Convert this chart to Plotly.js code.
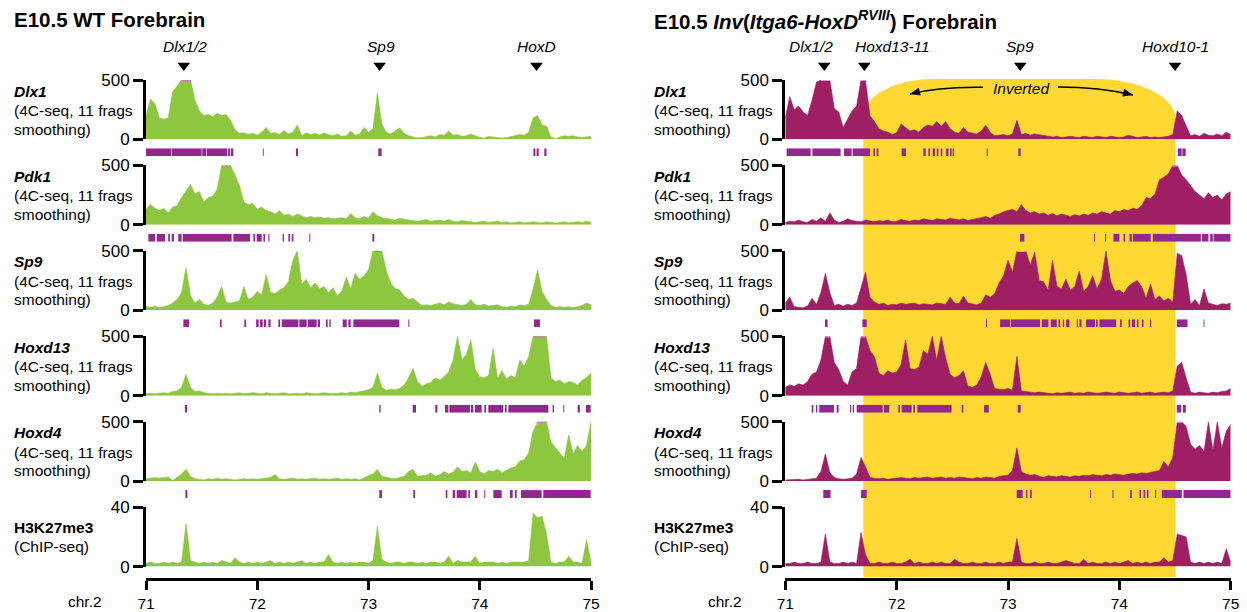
<!DOCTYPE html>
<html><head><meta charset="utf-8">
<script src="https://cdn.plot.ly/plotly-3.0.1.min.js"></script>
<style>html,body{margin:0;padding:0;background:#fff}#chart{width:1247px;height:612px}</style>
</head><body><div id="chart"></div>
<script>
// ---------------- DATA ----------------
const binStartMb = 71.0;
const binSizeMb = 0.04;
const xTickValues = [71, 72, 73, 74, 75];
const xTickLabels = ['71', '72', '73', '74', '75'];
const viewpoints = ['Dlx1', 'Pdk1', 'Sp9', 'Hoxd13', 'Hoxd4'];
const chipLabel = 'H3K27me3';

// WT forebrain 4C-seq (0-500, clipped) and H3K27me3 ChIP (0-40)
const wtDlx1 = [200,340,300,180,170,180,400,450,500,500,
500,330,240,200,210,190,220,200,210,160,
80,50,55,40,50,35,60,100,50,55,
40,75,45,60,120,30,55,40,50,35,
55,40,30,45,25,30,70,35,45,100,
60,90,390,130,60,45,70,95,50,30,
20,12,15,25,30,20,40,35,70,35,
40,25,30,45,30,15,10,25,20,15,
10,15,25,30,40,35,60,180,200,120,
110,20,5,20,30,25,30,20,15,20,
25];
const wtPdk1 = [130,170,140,120,140,100,150,160,230,280,
340,260,280,190,230,240,300,500,500,500,
420,330,190,170,180,130,150,120,110,90,
120,80,90,70,90,75,60,70,60,65,
55,60,50,55,60,50,95,60,50,70,
55,110,75,60,55,45,40,55,45,40,
35,30,35,45,30,35,40,30,45,30,
25,35,30,25,20,25,30,20,25,30,
20,25,15,20,25,15,20,25,20,15,
25,20,15,20,25,15,20,25,20,30,
20];
const wtSp9 = [30,25,35,20,30,40,60,90,150,360,
120,60,90,50,40,60,110,200,70,60,
70,80,200,90,110,160,130,300,150,140,
170,190,240,420,500,220,260,190,230,180,
200,150,190,120,160,280,180,310,260,290,
340,500,500,500,330,230,180,170,120,90,
100,70,40,45,40,50,60,45,70,55,
45,40,50,90,45,40,50,35,40,45,
30,25,35,30,45,40,50,180,340,160,
90,40,25,30,25,30,20,30,40,60,
45];
const wtHoxd13 = [15,20,15,20,25,20,35,40,70,180,
70,35,40,25,20,15,20,15,20,15,
20,25,15,20,25,20,15,25,20,15,
20,25,15,20,20,15,25,20,15,20,
25,20,15,20,25,20,30,25,35,40,
50,70,190,70,45,55,50,60,90,150,
230,120,80,100,110,150,130,160,200,300,
500,300,350,470,220,160,150,170,400,150,
210,140,170,150,300,250,330,500,500,500,
500,150,120,130,100,120,110,90,130,150,
190];
const wtHoxd4 = [20,25,30,25,30,35,5,30,60,100,
40,20,15,10,20,15,25,15,20,15,
10,15,20,15,20,15,20,25,30,55,
20,15,20,25,15,20,15,20,25,15,
20,15,20,25,15,20,15,20,10,30,
45,60,100,40,30,25,20,30,40,80,
100,40,45,50,70,40,55,80,60,75,
120,80,90,70,160,80,60,90,80,100,
70,90,110,120,170,180,240,420,500,500,
500,330,280,230,190,390,230,300,250,300,
500];
const wtK27me3 = [2,3,2,2,3,2,3,2,3,29,
4,3,2,3,2,3,2,4,3,2,
6,3,2,3,2,3,2,3,4,2,
3,2,3,2,3,4,2,3,2,3,
3,8,3,2,3,2,3,2,3,3,
2,4,27,5,3,2,3,3,2,3,
3,2,3,2,3,3,2,3,7,2,
4,3,3,3,7,2,3,3,3,2,
3,2,3,3,3,3,4,36,33,34,
22,3,2,3,3,7,3,3,2,18,
3];

// Inv(Itga6-HoxD RVIII) forebrain
const invDlx1 = [180,360,250,280,230,200,330,480,500,500,
500,260,230,100,170,240,280,500,500,200,
150,90,70,60,40,55,130,100,70,80,
60,100,120,110,150,110,150,90,60,50,
100,60,50,45,70,120,60,30,35,40,
30,45,160,40,50,35,45,40,30,25,
20,25,15,20,25,20,15,25,20,15,
25,20,15,25,20,15,20,35,25,15,
20,25,15,20,15,20,25,40,240,200,
110,30,40,25,50,35,30,45,30,60,
40];
const invPdk1 = [20,30,25,40,25,20,45,30,60,30,
100,40,20,30,50,35,30,25,40,30,
25,35,30,40,25,30,45,35,30,40,
35,50,40,35,50,45,40,55,45,40,
50,35,45,50,60,70,55,80,90,110,
120,130,110,170,120,100,110,90,100,80,
95,75,90,80,70,85,75,90,80,100,
90,110,100,90,120,110,130,120,140,130,
160,230,220,260,380,400,430,500,500,420,
380,330,280,250,220,270,230,250,210,260,
280];
const invSp9 = [60,110,30,25,20,35,100,50,150,310,
150,40,50,35,50,40,60,190,320,110,
70,50,60,40,50,45,60,50,55,60,
45,55,50,45,60,55,50,110,60,55,
120,60,50,45,60,130,110,140,230,290,
420,320,500,500,500,380,490,250,240,170,
420,200,180,260,170,200,330,160,200,290,
180,260,500,250,160,170,140,200,230,250,
200,100,220,90,120,80,100,70,480,460,
300,50,90,40,180,60,50,40,55,50,
60];
const invHoxd13 = [70,90,80,100,90,120,180,200,300,500,
500,280,220,120,90,200,230,500,500,380,
330,190,170,210,190,200,260,470,230,220,
240,380,350,500,300,500,320,180,150,170,
210,80,70,90,160,280,180,60,55,50,
60,45,330,40,35,30,25,30,25,20,
15,25,20,25,30,20,25,20,30,25,
20,25,30,25,20,30,25,20,25,30,
20,25,30,20,25,30,25,40,250,280,
150,30,20,30,25,20,30,25,35,40,
60];
const invHoxd4 = [10,12,10,15,10,15,20,25,80,230,
70,30,20,15,20,25,60,200,120,30,
25,20,25,15,20,25,30,25,20,30,
25,30,35,25,30,35,25,30,25,35,
30,25,20,30,25,35,30,25,40,45,
50,90,280,80,60,50,55,40,30,45,
40,35,45,40,35,45,40,50,45,55,
50,45,55,50,60,55,50,60,65,60,
70,65,75,80,90,165,120,200,500,500,
460,310,270,300,250,500,260,500,280,420,
480];
const invK27me3 = [2,2,3,2,2,3,2,2,3,22,
3,2,2,3,2,3,2,23,8,2,
2,3,2,2,3,2,2,3,5,2,
3,2,2,3,2,3,2,2,5,3,
2,2,3,2,2,3,2,2,3,2,
3,3,19,3,2,2,3,2,2,3,
2,2,3,4,3,2,2,5,2,3,
2,2,3,2,3,2,3,4,2,3,
2,3,2,3,3,6,3,4,22,21,
20,3,2,3,2,3,2,3,2,12,
3];

// significant fragments (Mb intervals)
const wtDlx1Sig = [[71.0,71.228],[71.232,71.50],[71.505,71.54],[71.545,71.73],[71.738,71.755],[71.762,71.785],[72.05,72.058],[72.348,72.366],[73.088,73.118],[74.482,74.50],[74.511,74.53],[74.58,74.60]];
const wtPdk1Sig = [[71.021,71.081],[71.096,71.171],[71.20,71.216],[71.231,71.252],[71.29,71.32],[71.33,71.77],[71.785,71.935],[71.965,71.98],[71.995,72.04],[72.055,72.07],[72.10,72.11],[72.228,72.24],[72.28,72.295],[72.31,72.325],[72.468,72.477],[73.035,73.052]];
const wtSp9Sig = [[71.336,71.387],[71.665,71.68],[71.884,71.90],[71.99,72.013],[72.025,72.049],[72.06,72.079],[72.10,72.12],[72.19,72.205],[72.22,72.37],[72.378,72.444],[72.453,72.534],[72.543,72.564],[72.618,72.633],[72.648,72.66],[72.768,72.804],[72.819,72.84],[72.864,73.277],[73.358,73.367],[74.488,74.541]];
const wtHoxd13Sig = [[71.35,71.369],[73.097,73.109],[73.397,73.427],[73.60,73.619],[73.688,73.718],[73.727,73.912],[73.921,73.942],[73.957,74.017],[74.041,74.056],[74.077,74.212],[74.227,74.242],[74.257,74.617],[74.655,74.667],[74.751,74.76],[74.88,74.90],[74.955,74.997]];
const wtHoxd4Sig = [[71.354,71.372],[73.097,73.121],[73.403,73.418],[73.694,73.709],[73.757,73.778],[73.793,73.882],[73.897,73.912],[73.957,73.978],[74.041,74.05],[74.122,74.197],[74.272,74.296],[74.317,74.332],[74.371,74.556],[74.571,74.997]];
const invDlx1Sig = [[71.012,71.228],[71.243,71.497],[71.527,71.596],[71.605,71.761],[71.791,71.806],[71.82,71.836],[72.045,72.084],[72.24,72.261],[72.285,72.30],[72.324,72.345],[72.36,72.375],[72.396,72.41],[72.444,72.465],[72.48,72.494],[72.503,72.515],[72.809,72.818],[73.093,73.114],[74.525,74.56],[74.566,74.596]];
const invPdk1Sig = [[73.108,73.147],[73.773,73.782],[73.872,73.881],[73.947,74.001],[74.037,74.052],[74.091,74.112],[74.121,74.282],[74.30,74.732],[74.741,74.80],[74.816,74.84],[74.846,75.0]];
const invSp9Sig = [[71.356,71.38],[71.692,71.731],[72.803,72.812],[72.929,73.019],[73.025,73.288],[73.303,73.363],[73.384,73.438],[73.453,73.468],[73.492,73.504],[73.522,73.552],[73.618,73.627],[73.642,73.66],[73.701,73.782],[73.791,73.806],[73.821,73.971],[74.007,74.022],[74.082,74.097],[74.112,74.142],[74.157,74.172],[74.202,74.217],[74.276,74.286],[74.516,74.612],[74.756,74.764]];
const invHoxd13Sig = [[71.237,71.252],[71.276,71.288],[71.305,71.437],[71.461,71.479],[71.581,71.59],[71.605,71.617],[71.641,71.875],[71.886,71.934],[72.015,72.03],[72.045,72.135],[72.15,72.165],[72.186,72.494],[72.584,72.599],[72.785,72.827],[73.087,73.114],[74.516,74.555],[74.57,74.597]];
const invHoxd4Sig = [[71.341,71.407],[71.68,71.731],[73.078,73.132],[73.162,73.174],[73.198,73.213],[73.737,73.746],[73.938,73.947],[74.097,74.112],[74.181,74.196],[74.217,74.232],[74.247,74.262],[74.321,74.33],[74.381,74.561],[74.576,75.0]];

// gene markers (triangle position) and label centres
const wtGeneNames = ['Dlx1/2', 'Sp9', 'HoxD'];
const wtGenePos = [71.34, 73.10, 74.51];
const wtGeneLabelPos = [71.35, 73.11, 74.51];
const invGeneNames = ['Dlx1/2', 'Hoxd13-11', 'Sp9', 'Hoxd10-1'];
const invGenePos = [71.35, 71.71, 73.11, 74.50];
const invGeneLabelPos = [71.231, 71.963, 73.11, 74.50];
const invertedStartMb = 71.70;
const invertedEndMb = 74.505;

// ---------------- STYLE / LAYOUT ----------------
const FONT = 'Liberation Sans, Arial, Helvetica, sans-serif';
const W = 1247, H = 612;
const fx = p => p / W, fy = p => 1 - p / H;
const TOP0 = 80, STEP = 85.45, TH = 59.3;
const GREEN = '#8DC63F', MAROON = '#9E1F63', PURPLE = '#93278F', YELLOW = '#FFD833';

const panels = [
  {title: '<b>E10.5 WT Forebrain</b>', x0: 146, x1: 591, axisX: 144, labelX: 12, color: GREEN, cap: '#C67AAE',
   tracks: [wtDlx1, wtPdk1, wtSp9, wtHoxd13, wtHoxd4, wtK27me3],
   sig: [wtDlx1Sig, wtPdk1Sig, wtSp9Sig, wtHoxd13Sig, wtHoxd4Sig],
   genes: wtGeneNames, genePos: wtGenePos, labelPos: wtGeneLabelPos},
  {title: '<b>E10.5 <i>Inv</i>(<i>Itga6-HoxD</i><sup><i>RVIII</i></sup>) Forebrain</b>', x0: 785.3, x1: 1230.7, axisX: 783.3, labelX: 651.5, color: MAROON, cap: '#E39BC0',
   tracks: [invDlx1, invPdk1, invSp9, invHoxd13, invHoxd4, invK27me3],
   sig: [invDlx1Sig, invPdk1Sig, invSp9Sig, invHoxd13Sig, invHoxd4Sig],
   genes: invGeneNames, genePos: invGenePos, labelPos: invGeneLabelPos}
];

const layout = {
  width: W, height: H, margin: {l: 0, r: 0, t: 0, b: 0},
  paper_bgcolor: '#ffffff', plot_bgcolor: 'rgba(0,0,0,0)', showlegend: false,
  font: {family: FONT, color: '#000', size: 15.5},
  annotations: [], shapes: []
};
const data = [];
let axCount = 0;
const yName = n => n === 1 ? 'y' : 'y' + n;
const yKey = n => n === 1 ? 'yaxis' : 'yaxis' + n;

panels.forEach((pan, pi) => {
  const xn = pi === 0 ? 'x' : 'x2';
  const xk = pi === 0 ? 'xaxis' : 'xaxis2';
  layout[xk] = {
    domain: [fx(pan.x0), fx(pan.x1)], range: [71, 75], anchor: 'free', position: fy(579),
    showline: true, linewidth: 3, linecolor: '#000', ticks: 'outside', ticklen: 9, tickwidth: 3,
    tickcolor: '#000', tickvals: xTickValues, ticktext: xTickLabels, tickfont: {size: 15.5},
    showgrid: false, zeroline: false, fixedrange: true
  };
  pan.tracks.forEach((vals, ti) => {
    const xs = vals.map((v, i) => binStartMb + i * binSizeMb);
    const top = TOP0 + ti * STEP, bot = top + TH;
    const isChip = ti === 5;
    const ymax = isChip ? 40 : 500;
    const n = ++axCount;
    layout[yKey(n)] = {
      domain: [fy(bot), fy(top)], range: [0, ymax], anchor: 'free', position: fx(pan.axisX),
      showline: true, linewidth: 3, linecolor: '#000', ticks: 'outside', ticklen: 10, tickwidth: 3,
      tickcolor: '#000', tickvals: [0, ymax], ticktext: ['0', String(ymax)], tickfont: {size: 17},
      showgrid: false, zeroline: false, fixedrange: true
    };
    data.push({
      type: 'scatter', mode: 'lines', x: xs, y: vals, xaxis: xn, yaxis: yName(n),
      fill: 'tozeroy', fillcolor: pan.color, line: {color: pan.color, width: 0.6}, hoverinfo: 'skip'
    });
    if (!isChip) {
      // saturation caps (values at the 500 clip)
      data.push({
        type: 'scatter', mode: 'lines', x: xs, y: vals.map(v => v >= ymax ? ymax : null), xaxis: xn, yaxis: yName(n),
        line: {color: pan.cap, width: 2.2}, connectgaps: false, hoverinfo: 'skip', cliponaxis: false
      });
      layout.annotations.push(
        {xref: 'paper', yref: 'paper', x: fx(pan.labelX), y: fy(top + 11), xanchor: 'left', yanchor: 'middle', showarrow: false, text: '<b><i>' + viewpoints[ti] + '</i></b>'},
        {xref: 'paper', yref: 'paper', x: fx(pan.labelX), y: fy(top + 30.5), xanchor: 'left', yanchor: 'middle', showarrow: false, text: '(4C-seq, 11 frags'},
        {xref: 'paper', yref: 'paper', x: fx(pan.labelX), y: fy(top + 49), xanchor: 'left', yanchor: 'middle', showarrow: false, text: 'smoothing)'}
      );
      // significant fragments
      const ivs = pan.sig[ti];
      const m = ++axCount;
      layout[yKey(m)] = {domain: [fy(bot + 17), fy(bot + 9)], range: [0, 1], anchor: 'free', position: fx(pan.x0), visible: false, fixedrange: true};
      data.push({
        type: 'bar', x: ivs.map(d => (d[0] + d[1]) / 2), width: ivs.map(d => d[1] - d[0]),
        y: ivs.map(() => 1), base: 0, xaxis: xn, yaxis: yName(m),
        marker: {color: PURPLE, line: {width: 0}}, hoverinfo: 'skip'
      });
    } else {
      layout.annotations.push(
        {xref: 'paper', yref: 'paper', x: fx(pan.labelX), y: fy(top + 20.7), xanchor: 'left', yanchor: 'middle', showarrow: false, text: '<b>' + chipLabel + '</b>'},
        {xref: 'paper', yref: 'paper', x: fx(pan.labelX), y: fy(top + 39.7), xanchor: 'left', yanchor: 'middle', showarrow: false, text: '(ChIP-seq)'}
      );
    }
  });
  // gene markers
  const g = ++axCount;
  layout[yKey(g)] = {domain: [fy(75.5), fy(55.5)], range: [0, 1], anchor: 'free', position: fx(pan.x0), visible: false, fixedrange: true};
  data.push({
    type: 'scatter', mode: 'markers', x: pan.genePos, y: pan.genePos.map(() => 0.5), xaxis: xn, yaxis: yName(g),
    marker: {symbol: 'triangle-down', size: 11, color: '#000', line: {width: 0}}, hoverinfo: 'skip', cliponaxis: false
  });
  pan.genes.forEach((name, k) => {
    layout.annotations.push({xref: xn, yref: 'paper', x: pan.labelPos[k], y: fy(47), xanchor: 'center', yanchor: 'middle', showarrow: false, text: '<i>' + name + '</i>'});
  });
  layout.annotations.push(
    {xref: 'paper', yref: 'paper', x: fx(pan.labelX), y: fy(20), xanchor: 'left', yanchor: 'middle', showarrow: false, text: pan.title, font: {size: 20.5}},
    {xref: 'paper', yref: 'paper', x: fx(pan.labelX + 92), y: fy(601), xanchor: 'right', yanchor: 'middle', showarrow: false, text: 'chr.2'}
  );
});

// ---- inverted region (yellow rounded box) and curved arrows ----
const pxToMb = px => 71 + (px - 785.3) / 111.35;
function pathStr(cmds) {
  // cmds: [letter, [px,py], [px,py], ...]
  return cmds.map(c => c[0] + c.slice(1).map(p => pxToMb(p[0]).toFixed(5) + ',' + fy(p[1]).toFixed(5)).join(' ')).join(' ');
}
(function () {
  const k = 0.5523;
  const xa = 785.3 + (invertedStartMb - 71) * 111.35, xb = 785.3 + (invertedEndMb - 71) * 111.35;
  const yt = 79, yb = 577;
  const rxL = 70, ryL = 38, rxR = 80, ryR = 40;
  const s = pathStr([
    ['M', [xa, yb]],
    ['L', [xa, yt + ryL]],
    ['C', [xa, yt + ryL - k * ryL], [xa + rxL - k * rxL, yt], [xa + rxL, yt]],
    ['L', [xb - rxR, yt]],
    ['C', [xb - rxR + k * rxR, yt], [xb, yt + ryR - k * ryR], [xb, yt + ryR]],
    ['L', [xb, yb]]
  ]) + ' Z';
  layout.shapes.push({type: 'path', xref: 'x2', yref: 'paper', path: s, fillcolor: YELLOW, line: {width: 0}, layer: 'below'});

  function arrow(tail, ctrl, tip) {
    layout.shapes.push({type: 'path', xref: 'x2', yref: 'paper', path: pathStr([['M', tail], ['Q', ctrl, tip]]), line: {color: '#000', width: 1.5}});
    const dx = tip[0] - ctrl[0], dy = tip[1] - ctrl[1], L = Math.hypot(dx, dy);
    const ux = dx / L, uy = dy / L, len = 10, hw = 4;
    const bx = tip[0] - len * ux, by = tip[1] - len * uy;
    const s2 = pathStr([['M', tip], ['L', [bx - hw * uy, by + hw * ux]], ['L', [bx + hw * uy, by - hw * ux]]]) + ' Z';
    layout.shapes.push({type: 'path', xref: 'x2', yref: 'paper', path: s2, fillcolor: '#000', line: {width: 0}});
  }
  arrow([983, 87.3], [940, 86.5], [910, 94]);
  arrow([1058, 87], [1100, 87], [1133, 95]);
})();
layout.annotations.push(
  {xref: 'x2', yref: 'paper', x: 73.122, y: fy(88.3), xanchor: 'center', yanchor: 'middle', showarrow: false, text: '<i>Inverted</i>'}
);

Plotly.newPlot('chart', data, layout, {staticPlot: true, displayModeBar: false});
</script>
</body></html>
